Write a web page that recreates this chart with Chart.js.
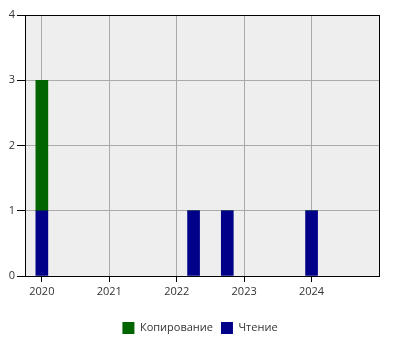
<!DOCTYPE html>
<html>
<head>
<meta charset="utf-8">
<script src="https://cdn.jsdelivr.net/npm/chart.js@4/dist/chart.umd.min.js"></script>
<style>
  html, body { margin:0; padding:0; background:#fff; }
  #wrap { width:400px; height:350px; }
</style>
</head>
<body>
<div id="wrap"><canvas id="c" width="400" height="350"></canvas></div>
<script>
// positions on the time axis as fractional years
const dates = [2020, 2022.25, 2022.75, 2024];
const reading = [1, 1, 1, 1];   // Чтение
const copying = [2, 0, 0, 0];   // Копирование
const yearTicks = [2020, 2021, 2022, 2023, 2024];
const yTicks = [0, 1, 2, 3, 4];

const pts = arr => dates.map((d, i) => ({x: d, y: arr[i]}));

// plot background + frame
const frame = {
  id: "frame",
  afterLayout(c){
    // centre the legend on the whole canvas, not on the padded box
    if (c.legend){ c.legend.left += 10.5; c.legend.right += 10.5; }
  },
  beforeDraw(c){
    const a = c.chartArea, ctx = c.ctx;
    ctx.save();
    ctx.fillStyle = "#eeeeee";
    ctx.fillRect(a.left, a.top, a.right - a.left, a.bottom - a.top);
    ctx.restore();
  },
  afterDraw(c){
    const a = c.chartArea, ctx = c.ctx;
    ctx.save();
    ctx.strokeStyle = "#000";
    ctx.lineWidth = 1;
    ctx.strokeRect(Math.round(a.left) + 0.5, Math.round(a.top) + 0.5,
                   Math.round(a.right - a.left), Math.round(a.bottom - a.top));
    ctx.restore();
  }
};

const font = {family: "'Open Sans', 'Noto Sans', sans-serif", size: 11};

new Chart(document.getElementById("c"), {
  type: "bar",
  data: {
    datasets: [
      {label: "Чтение", data: pts(reading), backgroundColor: "#000088", barThickness: 12},
      {label: "Копирование", data: pts(copying), backgroundColor: "#006400", barThickness: 12}
    ]
  },
  options: {
    responsive: false,
    animation: false,
    layout: {padding: {top: 15, right: 21, left: 0, bottom: 6}},
    plugins: {
      tooltip: {enabled: false},
      legend: {
        position: "bottom",
        reverse: true,
        labels: {color: "#333", font, boxWidth: 12, boxHeight: 12, padding: 8}
      }
    },
    scales: {
      x: {
        type: "linear",
        stacked: true,
        offset: false,
        min: 2019.75,
        max: 2025,
        afterBuildTicks: s => { s.ticks = yearTicks.map(v => ({value: v})); },
        afterFit: s => { s.height = 38; },
        ticks: {color: "#333", font, callback: v => String(v), padding: 3},
        grid: {color: "#aaaaaa", tickColor: "#000", tickLength: 6, offset: false},
        border: {color: "#000"}
      },
      y: {
        stacked: true,
        min: 0,
        max: 4,
        afterBuildTicks: s => { s.ticks = yTicks.map(v => ({value: v})); },
        afterFit: s => { s.width = 25; },
        ticks: {color: "#333", font, padding: 2},
        grid: {color: "#aaaaaa", tickColor: "#000", tickLength: 8},
        border: {color: "#000"}
      }
    }
  },
  plugins: [frame]
});
</script>
</body>
</html>
